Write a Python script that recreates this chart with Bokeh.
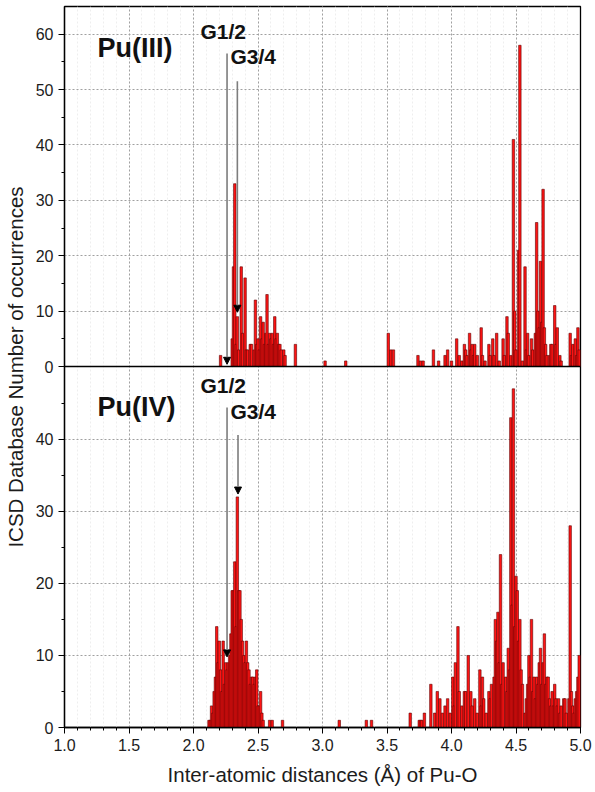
from bokeh.plotting import figure
from bokeh.models import (Range1d, FixedTicker, Label, Arrow, NormalHead,
                          ColumnDataSource, Grid, Span, PrintfTickFormatter)
from bokeh.embed import file_html
from bokeh.resources import INLINE

# ---- histogram data: Pu-O distance bins (Å, 0.01 Å bins) and counts ----
pu3_dist = [2.21, 2.30, 2.31, 2.32, 2.33, 2.34, 2.35, 2.37, 2.38, 2.40, 2.41, 2.42,
            2.44, 2.45, 2.47, 2.48, 2.49, 2.50, 2.51, 2.52, 2.53, 2.54, 2.55, 2.56,
            2.57, 2.58, 2.59, 2.60, 2.61, 2.62, 2.63, 2.64, 2.65, 2.66, 2.67, 2.68,
            2.70, 2.71, 2.79, 3.02, 3.18, 3.51, 3.53, 3.55, 3.74, 3.76, 3.78, 3.86,
            3.90, 3.95, 3.97, 4.00, 4.04, 4.06, 4.08, 4.10, 4.11, 4.12, 4.14, 4.15,
            4.16, 4.17, 4.18, 4.20, 4.23, 4.24, 4.26, 4.29, 4.30, 4.32, 4.33, 4.35,
            4.37, 4.40, 4.41, 4.43, 4.44, 4.46, 4.48, 4.49, 4.50, 4.52, 4.53, 4.55,
            4.57, 4.58, 4.59, 4.60, 4.62, 4.63, 4.65, 4.66, 4.67, 4.68, 4.69, 4.70,
            4.71, 4.72, 4.73, 4.74, 4.76, 4.77, 4.78, 4.80, 4.81, 4.82, 4.84, 4.85,
            4.92, 4.93, 4.94, 4.96, 4.97, 4.98, 4.99]
pu3_count = [2, 5, 18, 33, 4, 9, 3, 18, 6, 16, 3, 3,
             4, 4, 3, 12, 4, 5, 3, 9, 5, 8, 4, 6,
             13, 4, 6, 5, 6, 4, 9, 5, 6, 4, 4, 3,
             3, 2, 4, 1, 1, 6, 3, 3, 2, 1, 1, 3,
             1, 2, 3, 1, 5, 2, 1, 4, 3, 2, 6, 3,
             4, 2, 4, 2, 7, 2, 1, 4, 2, 5, 2, 6,
             1, 5, 2, 9, 6, 2, 41, 10, 3, 21, 58, 1,
             18, 3, 6, 2, 5, 3, 6, 26, 10, 7, 19, 8,
             32, 7, 4, 2, 2, 4, 4, 11, 4, 7, 2, 1,
             6, 2, 4, 5, 2, 7, 3]

pu4_dist = [2.12, 2.13, 2.14, 2.15, 2.16, 2.17, 2.18, 2.19, 2.20, 2.21, 2.22, 2.23,
            2.24, 2.25, 2.26, 2.27, 2.28, 2.29, 2.30, 2.31, 2.32, 2.33, 2.34, 2.35,
            2.36, 2.37, 2.38, 2.39, 2.40, 2.41, 2.42, 2.43, 2.44, 2.45, 2.46, 2.47,
            2.48, 2.49, 2.50, 2.51, 2.52, 2.53, 2.54, 2.59, 2.61, 2.69, 3.13, 3.34,
            3.38, 3.68, 3.75, 3.76, 3.77, 3.79, 3.84, 3.87, 3.89, 3.91, 3.93, 3.95,
            3.97, 3.99, 4.01, 4.02, 4.03, 4.05, 4.06, 4.08, 4.10, 4.11, 4.13, 4.15,
            4.16, 4.18, 4.20, 4.22, 4.23, 4.24, 4.25, 4.27, 4.29, 4.30, 4.31, 4.33,
            4.34, 4.35, 4.36, 4.37, 4.38, 4.39, 4.40, 4.42, 4.43, 4.44, 4.45, 4.46,
            4.47, 4.48, 4.49, 4.50, 4.51, 4.52, 4.53, 4.54, 4.55, 4.57, 4.58, 4.59,
            4.60, 4.61, 4.62, 4.63, 4.64, 4.65, 4.66, 4.67, 4.68, 4.69, 4.70, 4.71,
            4.72, 4.73, 4.74, 4.75, 4.76, 4.77, 4.78, 4.79, 4.80, 4.81, 4.82, 4.83,
            4.84, 4.85, 4.87, 4.88, 4.89, 4.91, 4.92, 4.93, 4.94, 4.95, 4.96, 4.97,
            4.98, 4.99]
pu4_count = [1, 1, 3, 2, 5, 7, 14, 9, 12, 8, 5, 12,
             6, 9, 8, 9, 10, 13, 19, 19, 23, 14, 32, 19,
             19, 15, 12, 10, 9, 12, 9, 8, 6, 7, 7, 6,
             7, 8, 3, 3, 5, 2, 1, 1, 1, 1, 1, 1,
             1, 2, 1, 1, 1, 2, 6, 2, 5, 4, 2, 3,
             4, 2, 7, 3, 9, 14, 5, 3, 5, 5, 10, 5,
             3, 4, 2, 8, 3, 7, 4, 2, 5, 4, 6, 7,
             15, 12, 16, 9, 24, 6, 9, 7, 5, 11, 8, 43,
             17, 47, 14, 21, 19, 12, 15, 8, 6, 2, 4, 6,
             10, 7, 15, 5, 7, 4, 7, 6, 9, 11, 6, 9,
             13, 6, 7, 7, 4, 3, 5, 3, 6, 4, 3, 4,
             2, 3, 4, 4, 2, 4, 28, 5, 3, 2, 4, 5,
             7, 10]

# ---- group markers: label, distance, arrow top, arrow tip ----
pu3_groups = ["G1/2", "G3/4"]
pu3_group_x = [2.26, 2.34]
pu3_arrow_top = [56.5, 51.5]
pu3_arrow_tip = [0.4, 9.8]

pu4_groups = ["G1/2", "G3/4"]
pu4_group_x = [2.26, 2.345]
pu4_arrow_top = [44.4, 40.6]
pu4_arrow_tip = [9.8, 32.4]

x_major = [1.0, 1.5, 2.0, 2.5, 3.0, 3.5, 4.0, 4.5, 5.0]
x_minor = [round(1.0 + 0.1 * i, 1) for i in range(41)]

pu3_ticks = [0, 10, 20, 30, 40, 50, 60]
pu3_minor = [5, 15, 25, 35, 45, 55]
pu4_ticks = [0, 10, 20, 30, 40]
pu4_minor = [5, 15, 25, 35, 45]

FONT = "Liberation Sans"
BAR_FILL = "#ff1414"
BAR_LINE = "#5e0000"
TEXT = "#1c1c1c"

# Both panels share one frame; each has its own vertical range.
FRAME_H = 721
LOWER_H = 361                      # pixel share of the Pu(IV) panel
frac = LOWER_H / FRAME_H
pu3_max = 65.0
pu4_max = 50.1
main_end = pu4_max / frac                          # Pu(IV) range (primary)
pu3_start = -pu3_max * frac / (1.0 - frac)         # Pu(III) range puts 0 on the divider


def pu3_to_main(v):
    return (v - pu3_start) / (pu3_max - pu3_start) * main_end


p = figure(width=595, height=792, output_backend="svg", toolbar_location=None,
           x_range=Range1d(1.0, 5.0), y_range=Range1d(0, main_end),
           min_border_left=64, min_border_right=15, min_border_top=6,
           min_border_bottom=65)
p.extra_y_ranges = {"pu3": Range1d(pu3_start, pu3_max)}
p.background_fill_color = "white"
p.border_fill_color = "white"
p.outline_line_color = "black"
p.outline_line_width = 1.3

# bars
src4 = ColumnDataSource(dict(x=pu4_dist, top=pu4_count))
src3 = ColumnDataSource(dict(x=pu3_dist, top=pu3_count))
p.vbar(x="x", top="top", bottom=0, width=0.019, source=src4,
       fill_color=BAR_FILL, line_color=BAR_LINE, line_width=0.6)
p.vbar(x="x", top="top", bottom=0, width=0.019, source=src3, y_range_name="pu3",
       fill_color=BAR_FILL, line_color=BAR_LINE, line_width=0.6)

# x axis
xa = p.xaxis[0]
xa.ticker = FixedTicker(ticks=x_major, minor_ticks=x_minor)
xa.formatter = PrintfTickFormatter(format="%.1f")
xa.axis_label = "Inter-atomic distances (\u00c5) of Pu-O"

# y axis: one axis carries the ticks of both panels
ya = p.yaxis[0]
y_ticks = list(pu4_ticks) + [pu3_to_main(v) for v in pu3_ticks]
y_minor = list(pu4_minor) + [pu3_to_main(v) for v in pu3_minor]
ya.ticker = FixedTicker(ticks=y_ticks, minor_ticks=y_minor)
overrides = {}
for v in pu3_ticks:
    overrides[pu3_to_main(v)] = str(v)
for v in pu4_ticks:
    overrides[float(v)] = str(v)
    overrides[v] = str(v)
ya.major_label_overrides = overrides
ya.axis_label = "ICSD Database Number of occurrences"

for ax in (xa, ya):
    ax.axis_line_color = "black"
    ax.axis_line_width = 1.3
    ax.major_tick_line_color = "black"
    ax.minor_tick_line_color = "black"
    ax.major_tick_in = 0
    ax.major_tick_out = 6
    ax.minor_tick_in = 0
    ax.minor_tick_out = 3
    ax.major_label_text_font = FONT
    ax.major_label_text_font_size = "16px"
    ax.major_label_text_color = TEXT
    ax.major_label_standoff = 5
    ax.axis_label_text_font = FONT
    ax.axis_label_text_font_style = "normal"
    ax.axis_label_text_font_size = "20.5px"
    ax.axis_label_text_color = TEXT
xa.axis_label_standoff = 9
ya.axis_label_standoff = 6

# grids
p.xgrid.grid_line_color = "#a0a0a0"
p.xgrid.grid_line_dash = "2 2"
p.xgrid.minor_grid_line_color = "#eeeeee"
p.xgrid.minor_grid_line_dash = "2 2"
p.ygrid.visible = False
p.add_layout(Grid(dimension=1, ticker=FixedTicker(ticks=pu4_ticks[1:]),
                  grid_line_color="#a0a0a0", grid_line_dash="2 2"))
p.add_layout(Grid(dimension=1, y_range_name="pu3",
                  ticker=FixedTicker(ticks=pu3_ticks[1:]),
                  grid_line_color="#a0a0a0", grid_line_dash="2 2"))

# divider between the panels (zero line of Pu(III))
p.add_layout(Span(location=0, dimension="width", y_range_name="pu3",
                  line_color="black", line_width=1.3))


def annotate(rng, title, title_y, groups, gx, gtop, gtip, label_y):
    kw = {} if rng is None else {"y_range_name": rng}
    p.add_layout(Label(x=1.256, y=title_y, text=title, text_font=FONT,
                       text_font_style="bold", text_font_size="27px",
                       text_color="#111111", **kw))
    label_x = [2.054, 2.287]
    for name, x, t, tip, lx, ly in zip(groups, gx, gtop, gtip, label_x, label_y):
        p.add_layout(Arrow(end=NormalHead(size=7, fill_color="black", line_color="black"),
                           x_start=x, y_start=t, x_end=x, y_end=tip,
                           line_color="#7d7d7d", line_width=1.6, **kw))
        p.add_layout(Label(x=lx, y=ly, text=name, text_font=FONT,
                           text_font_style="bold", text_font_size="21px",
                           text_color="#111111", **kw))


annotate("pu3", "Pu(III)", 54.8, pu3_groups, pu3_group_x, pu3_arrow_top,
         pu3_arrow_tip, [58.4, 53.9])
annotate(None, "Pu(IV)", 42.4, pu4_groups, pu4_group_x, pu4_arrow_top,
         pu4_arrow_tip, [45.9, 42.2])

with open("out.html", "w") as f:
    f.write(file_html(p, INLINE))
